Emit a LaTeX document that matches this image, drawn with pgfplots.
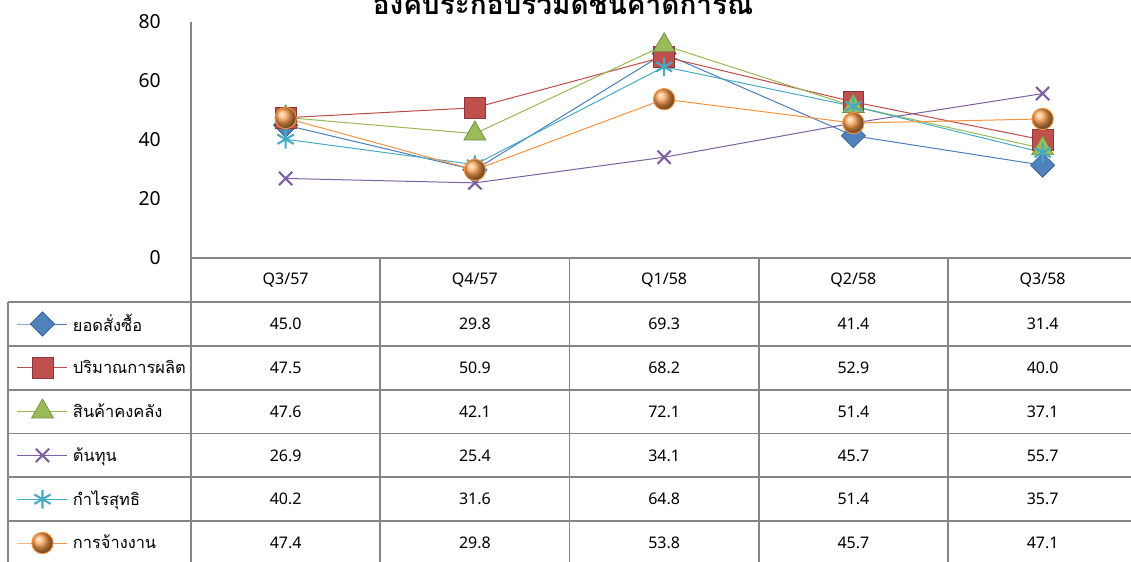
\documentclass[border=0pt]{standalone}
\usepackage{fontspec}
\setmainfont{Noto Sans}
\newfontfamily\thai[Script=Thai]{Loma}
\usepackage{pgfplots}
\pgfplotsset{compat=1.18}
\usetikzlibrary{plotmarks}
\definecolor{gridgray}{HTML}{868686}
\definecolor{lblue}{HTML}{4A7EBB}
\definecolor{lred}{HTML}{BE4B48}
\definecolor{lgreen}{HTML}{98B954}
\definecolor{lpurple}{HTML}{7D60A0}
\definecolor{lcyan}{HTML}{46AAC5}
\definecolor{lorange}{HTML}{F69240}
\definecolor{fblue}{HTML}{4F81BD}
\definecolor{dblue}{HTML}{385D8A}
\definecolor{fred}{HTML}{C0504D}
\definecolor{dred}{HTML}{8C3836}
\definecolor{fgreen}{HTML}{9BBB59}
\definecolor{dgreen}{HTML}{71893F}
\definecolor{forange}{HTML}{FAA050}
\begin{document}
\begin{tikzpicture}
\useasboundingbox (0,0) rectangle (848.25pt,420.75pt);
\begin{axis}[
  at={(143.25pt,227.475pt)}, anchor=south west,
  scale only axis, width=709.69pt, height=176.78pt,
  xmin=-0.5, xmax=4.5, ymin=0, ymax=80,
  axis x line*=bottom, axis y line*=left,
  axis line style={draw=gridgray, line width=1.4pt, -},
  every outer x axis line/.append style={-},
  every outer y axis line/.append style={-},
  xtick=\empty, ytick={0,20,40,60,80},
  major tick length=0pt,
  yticklabel style={font=\fontsize{14.5}{16}\selectfont, inner sep=0pt, xshift=-22.5pt},
  /pgf/number format/assume math mode=true,
  clip=false,
  legend style={at={(axis description cs:-0.18388,-0.18837)}, anchor=north west,
    draw=none, fill=none, inner sep=0pt, outer sep=0pt, row sep=0pt,
    font=\thai\fontsize{12.3}{14}\selectfont,
    nodes={minimum height=32.85pt, inner ysep=0pt, inner xsep=3.75pt}},
  legend cell align=left,
  legend image code/.code={\draw[#1, mark repeat=2, mark phase=2] plot coordinates {(0pt,0pt) (18.75pt,0pt) (37.5pt,0pt)};},
]
\addplot[lblue, line width=0.75pt, mark=square*, mark size=6.4pt,
  mark options={rotate=45, fill=fblue, draw=dblue, line width=0.5pt}]
  coordinates {(0,45.0) (1,29.8) (2,69.3) (3,41.4) (4,31.4)};
\addlegendentry{ยอดสั่งซื้อ}
\addplot[lred, line width=0.75pt, mark=square*, mark size=7.8pt,
  mark options={fill=fred, draw=dred, line width=0.5pt}]
  coordinates {(0,47.5) (1,50.9) (2,68.2) (3,52.9) (4,40.0)};
\addlegendentry{ปริมาณการผลิต}
\addplot[lgreen, line width=0.75pt, mark=triangle*, mark size=9.5pt,
  mark options={fill=fgreen, draw=dgreen, line width=0.5pt}]
  coordinates {(0,47.6) (1,42.1) (2,72.1) (3,51.4) (4,37.1)};
\addlegendentry{สินค้าคงคลัง}
\addplot[lpurple, line width=0.75pt, mark=x, mark size=7pt,
  mark options={line width=1.6pt}]
  coordinates {(0,26.9) (1,25.4) (2,34.1) (3,45.7) (4,55.7)};
\addlegendentry{ต้นทุน}
\addplot[lcyan, line width=0.75pt, mark=asterisk, mark size=7pt,
  mark options={line width=1.6pt}]
  coordinates {(0,40.2) (1,31.6) (2,64.8) (3,51.4) (4,35.7)};
\addlegendentry{กำไรสุทธิ}
\addplot[lorange, line width=0.75pt, mark=ball, mark size=8pt,
  mark options={ball color=forange}]
  coordinates {(0,47.4) (1,29.8) (2,53.8) (3,45.7) (4,47.1)};
\addlegendentry{การจ้างงาน}
\end{axis}
% title
\node[font=\thai\bfseries\fontsize{21}{24}\selectfont, anchor=base] at (422.25pt,409.5pt) {องค์ประกอบรวมดัชนีคาดการณ์};
% table grid
\begin{scope}[draw=gridgray, line width=1.4pt]
\foreach \yy in {194.18,161.33,128.48,95.63,62.78,29.93}
  \draw[gridgray] (6pt,\yy pt) -- (848.25pt,\yy pt);
\draw[gridgray] (6pt,194.18pt) -- (6pt,-3pt);
\foreach \xx in {143.25,285.19,427.13,569.06,711}
  \draw[gridgray] (\xx pt,226.98pt) -- (\xx pt,-3pt);
\end{scope}
% table text
\begin{scope}[every node/.style={font=\fontsize{12}{14}\selectfont, inner sep=0pt}]
\foreach \xx/\lab in {214.22/Q3\slash 57, 356.16/Q4\slash 57, 498.09/Q1\slash 58, 640.03/Q2\slash 58, 781.97/Q3\slash 58}
  \node at (\xx pt,210.6pt) {\lab};
\foreach \yy/\a/\b/\c/\d/\e in {177.75/45.0/29.8/69.3/41.4/31.4, 144.9/47.5/50.9/68.2/52.9/40.0, 112.05/47.6/42.1/72.1/51.4/37.1, 79.2/26.9/25.4/34.1/45.7/55.7, 46.35/40.2/31.6/64.8/51.4/35.7, 13.5/47.4/29.8/53.8/45.7/47.1}
{
  \node at (214.22pt,\yy pt) {\a};
  \node at (356.16pt,\yy pt) {\b};
  \node at (498.09pt,\yy pt) {\c};
  \node at (640.03pt,\yy pt) {\d};
  \node at (781.97pt,\yy pt) {\e};
}
\end{scope}
\end{tikzpicture}
\end{document}
